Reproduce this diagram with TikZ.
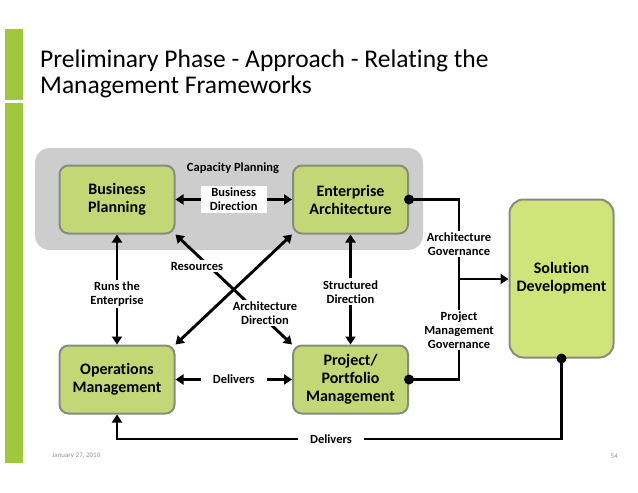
\documentclass[tikz,border=0pt]{standalone}
\usepackage{fontspec}
\setmainfont{Carlito}[Ligatures=NoCommon]
\usetikzlibrary{arrows.meta,calc}
\definecolor{bargreen}{RGB}{160,200,60}
\definecolor{boxgreen}{RGB}{196,215,118}
\definecolor{sdgreen}{RGB}{208,228,122}
\definecolor{boxborder}{RGB}{135,140,125}
\definecolor{panelgray}{RGB}{205,205,205}
\definecolor{footgray}{RGB}{150,150,150}
\begin{document}
\begin{tikzpicture}[x=1pt,y=-1pt,
  box/.style={draw=boxborder, line width=2pt, fill=boxgreen, rounded corners=9pt,
    font=\fontsize{16}{18}\selectfont\bfseries, align=center, inner sep=0pt,
    minimum width=115pt, minimum height=68pt},
  lab/.style={font=\fontsize{12.5}{14}\selectfont\bfseries, align=center, inner xsep=4pt, inner ysep=2pt},
  wlab/.style={lab, fill=white},
  conn/.style={line width=2.9pt},
  tip/.tip={Triangle[length=8pt,width=10pt]},
  arr/.style={conn, -tip},
  darr/.style={conn, tip-tip},
  dot/.style={circle, fill=black, inner sep=0pt, minimum size=10pt},
  ]
\useasboundingbox (0,0) rectangle (638,493);
\fill[white] (0,0) rectangle (638,493);
% left bars
\fill[bargreen] (5,29) rectangle (23,100);
\fill[bargreen] (5,103) rectangle (23,463);
% title
\node[anchor=base west, font=\fontsize{25.5}{26}\selectfont, inner sep=0pt] (title1) at (40,67) {Preliminary Phase - Approach - Relating the};
\node[anchor=base west, font=\fontsize{25.5}{26}\selectfont, inner sep=0pt] (title2) at (40,93) {Management Frameworks};
% panel
\fill[panelgray, rounded corners=15pt] (35,148) rectangle (423,250);
\node[lab] (cap) at (233,168) {Capacity Planning};
% boxes
\node[box] (bp) at (117,199.5) {Business\\Planning};
\node[box] (ea) at (350.5,199.5) {Enterprise\\Architecture};
\node[box] (om) at (117,379.5) {Operations\\Management};
\node[box] (pp) at (350.5,379.5) {Project/\\Portfolio\\Management};
\node[box, fill=sdgreen, minimum width=104pt, minimum height=158pt, rounded corners=14pt] (sd) at (561.5,278.5) {Solution\\Development};
% horizontal links
\draw[darr] (bp) -- (ea) node[wlab, midway, inner xsep=9pt] (bdir) {Business\\Direction};
\draw[darr] (om) -- (pp) node[wlab, midway, inner xsep=12pt] (del1) {Delivers};
% vertical links
\draw[darr] (bp) -- (om) node[wlab, pos=0.54] (runs) {Runs the\\Enterprise};
\draw[darr] (ea) -- (pp) node[wlab, pos=0.52] (sdir) {Structured\\Direction};
% diagonals
\draw[darr] (ea.south west) -- (om.north east);
\draw[darr] (bp.south east) -- (pp.north west);
\node[wlab] (res) at (197,266) {Resources};
\node[wlab] (adir) at (265,313) {Architecture\\Direction};
% governance
\coordinate (gx) at (459,279);
\draw[conn] (ea.east) -- (ea.east -| gx) -- (pp.east -| gx) -- (pp.east);
\draw[arr] (gx) -- (gx -| sd.west);
\node[dot] (eadot) at (ea.east) {};
\node[dot] (ppdot) at (pp.east) {};
\node[wlab] (agov) at (459,244) {Architecture\\Governance};
\node[wlab] (pgov) at (459,330) {Project\\Management\\Governance};
% bottom delivers
\coordinate (dl) at (117,439);
\draw[arr] (sd.south) -- (sd.south |- dl) -- (dl) -- (om.south);
\node[wlab, inner xsep=12pt] (del2) at (331,439) {Delivers};
\node[dot] (sddot) at (sd.south) {};
% footer
\node[anchor=west, font=\fontsize{7}{8}\selectfont, text=footgray, inner sep=0pt] (date) at (52,456) {January 27, 2010};
\node[anchor=east, font=\fontsize{7}{8}\selectfont, text=footgray, inner sep=0pt] (page) at (618,456) {54};
\end{tikzpicture}
\end{document}
